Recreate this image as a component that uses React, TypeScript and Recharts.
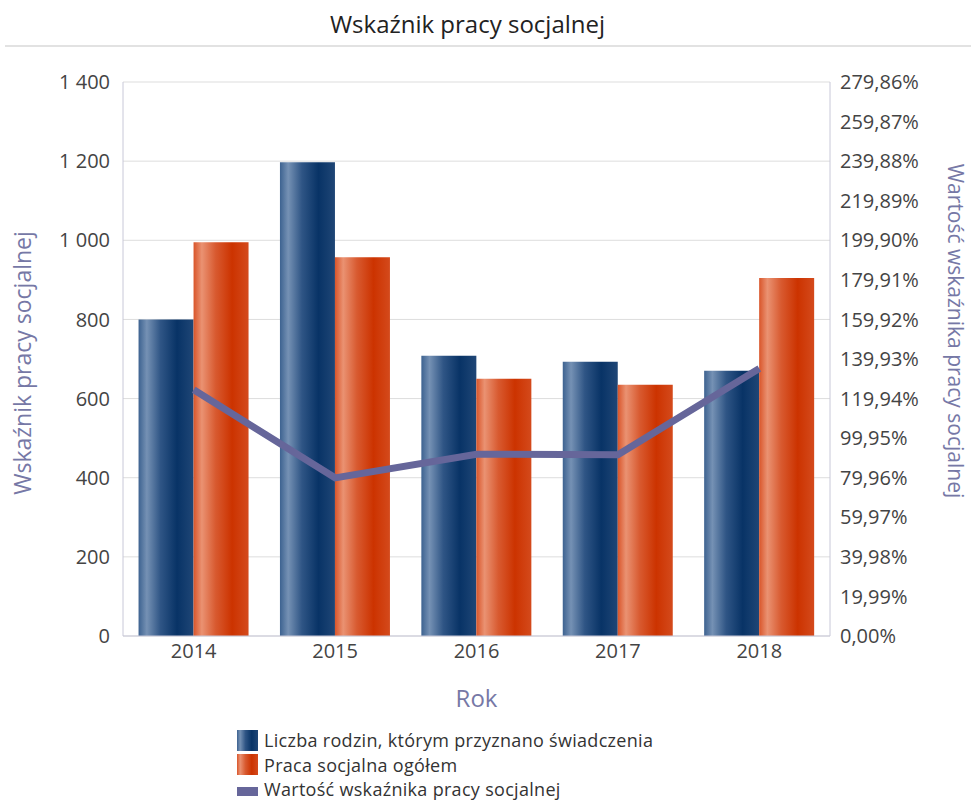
import { ComposedChart, Bar, Line, XAxis, YAxis, CartesianGrid } from "recharts"

let years = ["2014", "2015", "2016", "2017", "2018"]
let families = [800, 1197, 708, 693, 670]
let socialWork = [995, 957, 650, 635, 905]
let indicator = [124.4, 79.9, 91.8, 91.6, 135.1]
let leftTicks = [0, 200, 400, 600, 800, 1000, 1200, 1400]
let rightTicks = [0, 19.99, 39.98, 59.97, 79.96, 99.95, 119.94, 139.93, 159.92, 179.91, 199.9, 219.89, 239.88, 259.87, 279.86]

let labelFamilies = "Liczba rodzin, którym przyznano świadczenia"
let labelWork = "Praca socjalna ogółem"
let labelIndicator = "Wartość wskaźnika pracy socjalnej"
let labelLeft = "Wskaźnik pracy socjalnej"

let data = years.map((year, i) => ({ year, a: families[i], b: socialWork[i], c: indicator[i] }))

let font = "'Open Sans', sans-serif"
let tickStyle = { fill: "#444", fontSize: 20, fontFamily: font }
let axisColor = "#7678a6"
let lineColor = "#66669a"
let blueCss = "linear-gradient(90deg, #3d6290 0%, #7591b4 15%, #2f5585 40%, #083366 70%, #1f4676 100%)"
let orangeCss = "linear-gradient(90deg, #d9552a 0%, #ea9272 15%, #d85a30 40%, #cc3300 70%, #d44a1c 100%)"

let fmtLeft = (v: number) => String(v).replace(/\B(?=(\d{3})+(?!\d))/g, " ")
let fmtRight = (v: number) => v.toFixed(2).replace(".", ",") + "%"

let LeftLabel = ({ viewBox }: any) => {
  let cx = viewBox.x - 31
  let cy = viewBox.y + viewBox.height / 2 + 4
  return (
    <text x={cx} y={cy} transform={`rotate(-90 ${cx} ${cy})`} textAnchor="middle" dominantBaseline="central" fill={axisColor} fontSize={23} fontFamily={font}>
      {labelLeft}
    </text>
  )
}

let RightLabel = ({ viewBox }: any) => {
  let cx = viewBox.x + 126
  let cy = viewBox.y + viewBox.height / 2 - 28
  return (
    <text x={cx} y={cy} transform={`rotate(90 ${cx} ${cy})`} textAnchor="middle" dominantBaseline="central" fill={axisColor} fontSize={21} fontFamily={font}>
      {labelIndicator}
    </text>
  )
}

let LegendRow = ({ color, label, line }: { color: string; label: string; line?: boolean }) => (
  <div style={{ display: "flex", alignItems: "center", height: 24.5, lineHeight: "24.5px" }}>
    <span
      style={{
        display: "inline-block",
        width: 21,
        height: line ? 9 : 21,
        marginTop: line ? 4 : 0,
        background: color,
        marginRight: 6,
      }}
    />
    <span>{label}</span>
  </div>
)

export default function App() {
  return (
    <div style={{ position: "absolute", left: 0, top: 0, width: 971, height: 802, background: "#fff", fontFamily: font }}>
      <div style={{ position: "absolute", top: 7, left: 0, width: 935, textAlign: "center", fontSize: 24, color: "#222" }}>
        Wskaźnik pracy socjalnej
      </div>
      <div style={{ position: "absolute", top: 45, left: 5, width: 966, height: 2, background: "#e2e2e2" }} />
      <ComposedChart
        width={971}
        height={802}
        data={data}
        barGap={0}
        barCategoryGap="11%"
        margin={{ top: 82, right: 41, bottom: 136, left: 53 }}
      >
        <defs>
          <linearGradient id="gBlue" x1="0" y1="0" x2="1" y2="0">
            <stop offset="0%" stopColor="#3d6290" />
            <stop offset="15%" stopColor="#7591b4" />
            <stop offset="40%" stopColor="#2f5585" />
            <stop offset="70%" stopColor="#083366" />
            <stop offset="100%" stopColor="#1f4676" />
          </linearGradient>
          <linearGradient id="gOrange" x1="0" y1="0" x2="1" y2="0">
            <stop offset="0%" stopColor="#d9552a" />
            <stop offset="15%" stopColor="#ea9272" />
            <stop offset="40%" stopColor="#d85a30" />
            <stop offset="70%" stopColor="#cc3300" />
            <stop offset="100%" stopColor="#d44a1c" />
          </linearGradient>
        </defs>
        <CartesianGrid yAxisId="left" vertical={false} stroke="#dddddd" />
        <XAxis
          dataKey="year"
          height={30}
          tick={tickStyle}
          tickLine={false}
          axisLine={{ stroke: "#c8c8d8" }}
          label={{ value: "Rok", position: "insideBottom", offset: -41, fill: axisColor, fontSize: 24, fontFamily: font }}
        />
        <YAxis
          yAxisId="left"
          width={70}
          domain={[0, 1400]}
          ticks={leftTicks}
          tickFormatter={fmtLeft}
          tick={{ ...tickStyle, dx: -5 }}
          tickLine={false}
          axisLine={{ stroke: "#c8c8d8" }}
          label={<LeftLabel />}
        />
        <YAxis
          yAxisId="right"
          orientation="right"
          width={100}
          domain={[0, 279.86]}
          ticks={rightTicks}
          tickFormatter={fmtRight}
          tick={{ ...tickStyle, dx: 2 }}
          tickLine={false}
          axisLine={{ stroke: "#c8c8d8" }}
          label={<RightLabel />}
        />
        <Bar yAxisId="left" dataKey="a" fill="url(#gBlue)" isAnimationActive={false} />
        <Bar yAxisId="left" dataKey="b" fill="url(#gOrange)" isAnimationActive={false} />
        <Line yAxisId="right" type="linear" dataKey="c" stroke={lineColor} strokeWidth={7} dot={false} isAnimationActive={false} />
      </ComposedChart>
      <div style={{ position: "absolute", left: 237, top: 728, fontSize: 18, letterSpacing: 0.3, color: "#333" }}>
        <LegendRow color={blueCss} label={labelFamilies} />
        <LegendRow color={orangeCss} label={labelWork} />
        <LegendRow color={lineColor} label={labelIndicator} line />
      </div>
    </div>
  )
}
